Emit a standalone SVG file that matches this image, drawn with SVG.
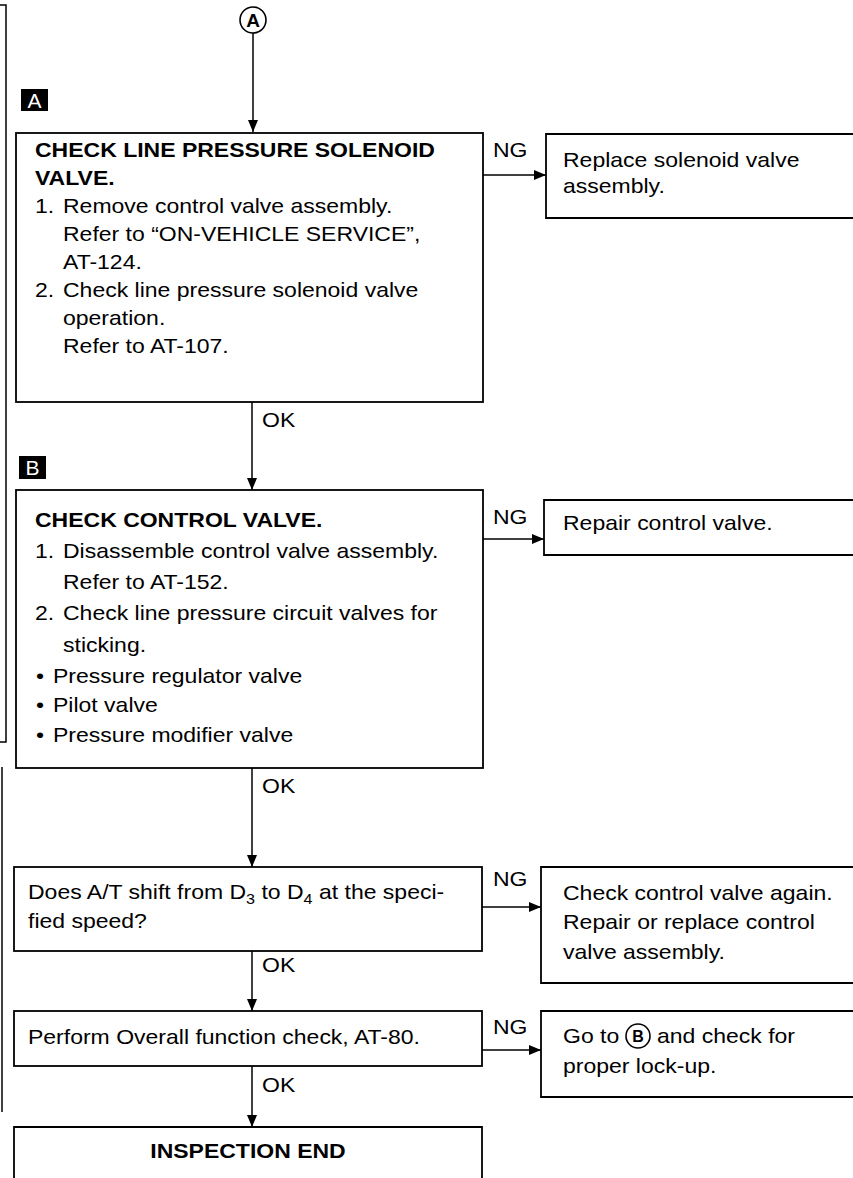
<svg xmlns="http://www.w3.org/2000/svg" width="853" height="1178" viewBox="0 0 853 1178">
<style>
.box{fill:none;stroke:#000;stroke-width:1.8}
.ln{fill:none;stroke:#000;stroke-width:1.5}
.t{font-family:"Liberation Sans",Arial,sans-serif;font-size:20px;fill:#000}
.b{font-weight:bold}
.sq{fill:#000}
.sqt{font-family:"Liberation Sans",Arial,sans-serif;font-size:21px;fill:#fff;text-anchor:middle}
.ct{font-family:"Liberation Sans",Arial,sans-serif;font-weight:bold;text-anchor:middle;fill:#000}
</style>
<defs>
<marker id="ah" markerUnits="userSpaceOnUse" markerWidth="12" markerHeight="10" refX="12" refY="5" orient="auto">
<path d="M0,0 L12,5 L0,10 z" fill="#000"/>
</marker>
</defs>
<rect width="853" height="1178" fill="#fff"/>

<g id="margin-lines">
<path class="ln" d="M0,5 H6 V742 H0"/>
<path class="ln" d="M2,767 V1112"/>
</g>

<g id="connectors">
<path class="ln" d="M253,33 V132" marker-end="url(#ah)"/>
<path class="ln" d="M483,175 H546" marker-end="url(#ah)"/>
<path class="ln" d="M252,402 V490" marker-end="url(#ah)"/>
<path class="ln" d="M483,539 H544" marker-end="url(#ah)"/>
<path class="ln" d="M252,768 V867" marker-end="url(#ah)"/>
<path class="ln" d="M482,907 H541" marker-end="url(#ah)"/>
<path class="ln" d="M252,951 V1011" marker-end="url(#ah)"/>
<path class="ln" d="M482,1050 H541" marker-end="url(#ah)"/>
<path class="ln" d="M252,1066 V1127" marker-end="url(#ah)"/>
</g>

<g id="start-A">
<circle cx="253" cy="20" r="13" fill="none" stroke="#000" stroke-width="1.6"/>
<text class="ct" x="253" y="27" font-size="19">A</text>
</g>

<g id="label-A">
<rect class="sq" x="21" y="89" width="27" height="22"/>
<text class="sqt" x="34.5" y="107.5">A</text>
</g>
<g id="label-B">
<rect class="sq" x="19" y="456" width="27" height="23"/>
<text class="sqt" x="32.5" y="475">B</text>
</g>

<g id="node-check-solenoid">
<rect class="box" x="16" y="133" width="467" height="269"/>
</g>
<g id="node-replace-solenoid">
<path class="box" d="M855,134 H546 V218 H855"/>
</g>
<g id="node-check-control">
<rect class="box" x="16" y="490" width="467" height="278"/>
</g>
<g id="node-repair-control">
<path class="box" d="M855,500 H544 V555 H855"/>
</g>
<g id="node-shift">
<rect class="box" x="14" y="867" width="468" height="84"/>
</g>
<g id="node-check-again">
<path class="box" d="M855,867 H541 V983 H855"/>
</g>
<g id="node-overall">
<rect class="box" x="14" y="1011" width="468" height="55"/>
</g>
<g id="node-lockup">
<path class="box" d="M855,1011 H541 V1097 H855"/>
<circle cx="638" cy="1036" r="12" fill="none" stroke="#000" stroke-width="1.6"/>
<text class="ct" x="638" y="1042" font-size="16">B</text>
</g>
<g id="node-end">
<path class="box" d="M14,1180 V1127 H482 V1180"/>
</g>

<g id="texts" transform="scale(1.15,1)">
<text class="t b" x="30.43" y="157">CHECK LINE PRESSURE SOLENOID</text>
<text class="t b" x="30.43" y="185">VALVE.</text>
<text class="t" x="30.43" y="213">1.</text>
<text class="t" x="54.78" y="213">Remove control valve assembly.</text>
<text class="t" x="54.78" y="241">Refer to “ON-VEHICLE SERVICE”,</text>
<text class="t" x="54.78" y="269">AT-124.</text>
<text class="t" x="30.43" y="297">2.</text>
<text class="t" x="54.78" y="297">Check line pressure solenoid valve</text>
<text class="t" x="54.78" y="325">operation.</text>
<text class="t" x="54.78" y="353">Refer to AT-107.</text>

<text class="t" x="428.7" y="157">NG</text>
<text class="t" x="489.57" y="167">Replace solenoid valve</text>
<text class="t" x="489.57" y="193">assembly.</text>

<text class="t" x="227.83" y="427">OK</text>

<text class="t b" x="30.43" y="527">CHECK CONTROL VALVE.</text>
<text class="t" x="30.43" y="558">1.</text>
<text class="t" x="54.78" y="558">Disassemble control valve assembly.</text>
<text class="t" x="54.78" y="589">Refer to AT-152.</text>
<text class="t" x="30.43" y="620">2.</text>
<text class="t" x="54.78" y="620">Check line pressure circuit valves for</text>
<text class="t" x="54.78" y="652">sticking.</text>
<text class="t" x="31.3" y="683">•</text>
<text class="t" x="46.09" y="683">Pressure regulator valve</text>
<text class="t" x="31.3" y="712">•</text>
<text class="t" x="46.09" y="712">Pilot valve</text>
<text class="t" x="31.3" y="742">•</text>
<text class="t" x="46.09" y="742">Pressure modifier valve</text>

<text class="t" x="428.7" y="524">NG</text>
<text class="t" x="489.57" y="530">Repair control valve.</text>

<text class="t" x="227.83" y="793">OK</text>

<text class="t" x="24.35" y="899">Does A/T shift from D<tspan font-size="14" dy="5">3</tspan><tspan dy="-5"> to D</tspan><tspan font-size="14" dy="5">4</tspan><tspan dy="-5"> at the speci-</tspan></text>
<text class="t" x="24.35" y="928">fied speed?</text>

<text class="t" x="428.7" y="886">NG</text>
<text class="t" x="489.57" y="900">Check control valve again.</text>
<text class="t" x="489.57" y="929">Repair or replace control</text>
<text class="t" x="489.57" y="959">valve assembly.</text>

<text class="t" x="227.83" y="972">OK</text>

<text class="t" x="24.35" y="1044">Perform Overall function check, AT-80.</text>
<text class="t" x="428.7" y="1034">NG</text>
<text class="t" x="489.57" y="1043">Go to</text>
<text class="t" x="571.3" y="1043">and check for</text>
<text class="t" x="489.57" y="1073">proper lock-up.</text>

<text class="t" x="227.83" y="1092">OK</text>

<text class="t b" x="215.65" y="1158" text-anchor="middle">INSPECTION END</text>
</g>
</svg>
